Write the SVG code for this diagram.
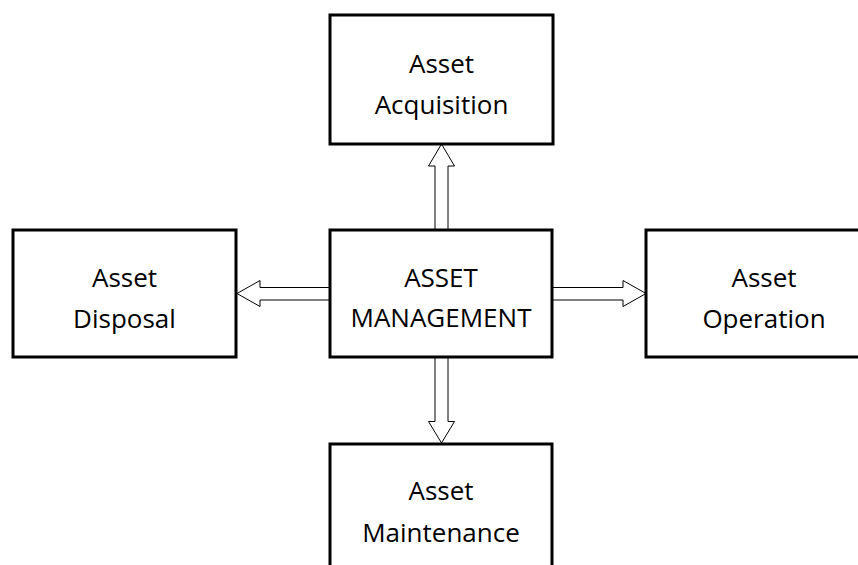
<svg xmlns="http://www.w3.org/2000/svg" width="858" height="565" viewBox="0 0 858 565">
  <style>
    .box { fill: #ffffff; stroke: #000000; stroke-width: 3; }
    .lbl { font-family: "Open Sans", "DejaVu Sans", sans-serif; font-size: 26px; fill: #000000; text-anchor: middle; }
    .arrow { fill: #ffffff; stroke: #000000; stroke-width: 1; stroke-linejoin: miter; }
  </style>
  <rect width="858" height="565" fill="#ffffff"/>

  <g id="connectors">
    <!-- up: management to acquisition -->
    <polygon class="arrow" points="441.5,144 428.5,166 435,166 435,230 448,230 448,166 454.5,166"/>
    <!-- down: management to maintenance -->
    <polygon class="arrow" points="441.5,443 428.5,421.5 435,421.5 435,357 448,357 448,421.5 454.5,421.5"/>
    <!-- left: management to disposal -->
    <polygon class="arrow" points="237,293.5 260,280.5 260,287.5 330,287.5 330,300 260,300 260,306.5"/>
    <!-- right: management to operation -->
    <polygon class="arrow" points="646,293.5 623,280.5 623,287.5 552,287.5 552,300 623,300 623,306.5"/>
  </g>

  <g id="acquisition">
    <rect class="box" x="330" y="15" width="223" height="129"/>
    <text class="lbl" x="441.5" y="73">Asset</text>
    <text class="lbl" x="441.5" y="114">Acquisition</text>
  </g>

  <g id="management">
    <rect class="box" x="330" y="230" width="222" height="127"/>
    <text class="lbl" x="441" y="287">ASSET</text>
    <text class="lbl" x="441" y="327">MANAGEMENT</text>
  </g>

  <g id="disposal">
    <rect class="box" x="13" y="230" width="223" height="127"/>
    <text class="lbl" x="124.5" y="287">Asset</text>
    <text class="lbl" x="124.5" y="328">Disposal</text>
  </g>

  <g id="operation">
    <rect class="box" x="646" y="230" width="236" height="127"/>
    <text class="lbl" x="764" y="287">Asset</text>
    <text class="lbl" x="764" y="328">Operation</text>
  </g>

  <g id="maintenance">
    <rect class="box" x="330" y="444" width="222" height="140"/>
    <text class="lbl" x="441" y="500">Asset</text>
    <text class="lbl" x="441" y="542">Maintenance</text>
  </g>
</svg>
